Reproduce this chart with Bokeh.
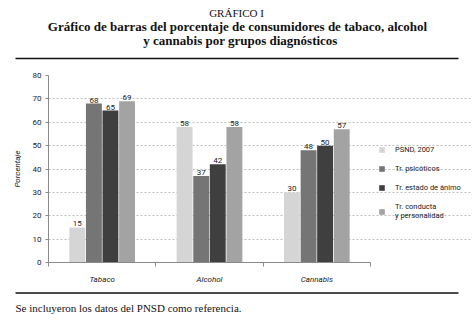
import numpy as np
from bokeh.plotting import figure
from bokeh.models import ColumnDataSource, Range1d, FixedTicker, Legend, LegendItem
from bokeh.transform import dodge
from bokeh.layouts import column
from bokeh.core.properties import value
from bokeh.embed import file_html
from bokeh.resources import INLINE

# ---- data ----
categories = ["Tabaco", "Alcohol", "Cannabis"]
series_names = ["PSND, 2007", "Tr. psicóticos", "Tr. estado de ánimo", "Tr. conducta\ny personalidad"]
psnd = [15, 58, 30]
psicoticos = [68, 37, 48]
animo = [65, 42, 50]
conducta = [69, 58, 57]
y_ticks = [0, 10, 20, 30, 40, 50, 60, 70, 80]

title_top = "GRÁFICO I"
subtitle_1 = "Gráfico de barras del porcentaje de consumidores de tabaco, alcohol"
subtitle_2 = "y cannabis por grupos diagnósticos"
footnote = "Se incluyeron los datos del PNSD como referencia."
y_label = "Porcentaje"

colors = ["#d5d5d5", "#757575", "#3f3f3f", "#a3a3a3"]
offsets = [-0.232, -0.077, 0.077, 0.232]
BAR_W = 0.148

SANS = "Roboto"
SERIF = "Liberation Serif"
W = 472
N = len(categories)
X_MAX = N * (W - 48) / (370 - 48)   # leaves room on the right for the legend

# ---- top (titles) ----
top = figure(width=W, height=62, x_range=Range1d(0, W), y_range=Range1d(62, 0),
             output_backend="svg", toolbar_location=None, min_border=0,
             x_axis_type=None, y_axis_type=None, outline_line_color=None,
             frame_align=False)
top.grid.visible = False
top.text(x=[W / 2], y=[12], text=[title_top], text_font=value(SERIF), text_font_size="11px",
         text_align="center", text_baseline="middle", text_color="#111111")
top.text(x=[W / 2 + 1], y=[26], text=[subtitle_1], text_font=value(SERIF), text_font_size="13px",
         text_font_style="bold", text_align="center", text_baseline="middle", text_color="#111111")
top.text(x=[W / 2 + 4], y=[40], text=[subtitle_2], text_font=value(SERIF), text_font_size="13px",
         text_font_style="bold", text_align="center", text_baseline="middle", text_color="#111111")
top.segment(x0=[15], y0=[58], x1=[458], y1=[58], line_color="#111111", line_width=1.4)

# ---- main chart ----
p = figure(width=W, height=224, x_range=Range1d(0, X_MAX), y_range=Range1d(0, 80),
           output_backend="svg", toolbar_location=None,
           min_border_left=48, min_border_right=0, min_border_top=13, min_border_bottom=22,
           outline_line_color=None, frame_align=False)

xpos = [i + 0.5 for i in range(N)]
all_series = [psnd, psicoticos, animo, conducta]
items = []
for name, vals, col, off in zip(series_names, all_series, colors, offsets):
    src = ColumnDataSource(dict(x=xpos, top=vals, lab=[str(v) for v in vals]))
    r = p.vbar(x=dodge("x", off, range=p.x_range), top="top", width=BAR_W, bottom=0,
               source=src, fill_color=col, line_color=None)
    p.text(x=dodge("x", off, range=p.x_range), y="top", text="lab", source=src,
           text_font=value(SANS), text_font_size="8px", text_align="center",
           text_baseline="bottom", y_offset=-1, text_color="#1a1a1a")
    items.append(LegendItem(label=name, renderers=[r]))

# axes
p.xaxis.ticker = FixedTicker(ticks=xpos, minor_ticks=list(range(N + 1)))
p.xaxis.major_label_overrides = {x: c for x, c in zip(xpos, categories)}
p.xaxis.bounds = (0, N)
p.xaxis.major_tick_out = 0
p.xaxis.major_tick_in = 0
p.xaxis.minor_tick_out = 4
p.xaxis.minor_tick_in = 0
p.xaxis.major_label_standoff = 8
p.xaxis.major_label_text_font = SANS
p.xaxis.major_label_text_font_style = "italic"
p.xaxis.major_label_text_font_size = "8px"
p.xaxis.major_label_text_color = "#1a1a1a"
p.xaxis.axis_line_color = "#8a8a8a"
p.xaxis.major_tick_line_color = "#8a8a8a"
p.xaxis.minor_tick_line_color = "#8a8a8a"

p.yaxis.ticker = FixedTicker(ticks=y_ticks)
p.yaxis.minor_tick_line_color = None
p.yaxis.major_tick_out = 3
p.yaxis.major_tick_in = 0
p.yaxis.major_label_standoff = 4
p.yaxis.major_label_text_font = SANS
p.yaxis.major_label_text_font_size = "8px"
p.yaxis.major_label_text_color = "#1a1a1a"
p.yaxis.axis_label = y_label
p.yaxis.axis_label_text_font = SANS
p.yaxis.axis_label_text_font_style = "italic"
p.yaxis.axis_label_text_font_size = "8px"
p.yaxis.axis_label_text_color = "#1a1a1a"
p.yaxis.axis_label_standoff = 8
p.yaxis.axis_line_color = "#8a8a8a"
p.yaxis.major_tick_line_color = "#8a8a8a"

p.xgrid.visible = False
p.ygrid.bounds = (0, N + 0.03)
p.ygrid.grid_line_color = "#bdbdbd"
p.ygrid.grid_line_dash = "2 2"
p.ygrid.grid_line_width = 1

legend = Legend(items=items, location=(330, 42), orientation="vertical",
                glyph_width=7, glyph_height=7, label_standoff=10, spacing=10,
                padding=0, margin=0, border_line_color=None, background_fill_alpha=0,
                label_text_font=SANS, label_text_font_size="7.5px",
                label_text_color="#1a1a1a", label_height=9)
p.add_layout(legend)

# ---- bottom (footnote) ----
bot = figure(width=W, height=41, x_range=Range1d(0, W), y_range=Range1d(41, 0),
             output_backend="svg", toolbar_location=None, min_border=0,
             x_axis_type=None, y_axis_type=None, outline_line_color=None,
             frame_align=False)
bot.grid.visible = False
bot.segment(x0=[15], y0=[6.5], x1=[458], y1=[6.5], line_color="#111111", line_width=1.4)
bot.text(x=[15], y=[21], text=[footnote], text_font=value(SERIF), text_font_size="11px",
         text_align="left", text_baseline="middle", text_color="#111111")

layout = column(top, p, bot, spacing=0)
open("out.html", "w").write(file_html(layout, INLINE))
